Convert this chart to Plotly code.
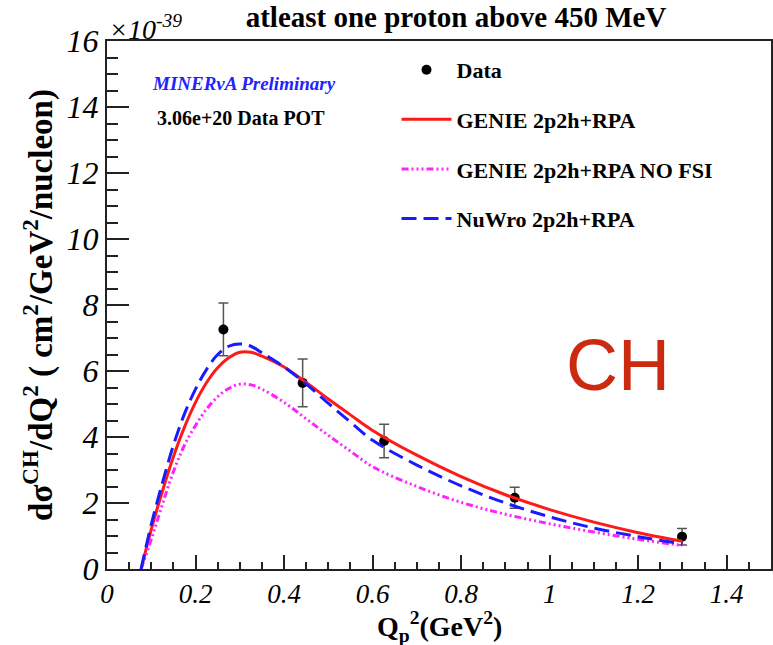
import plotly.graph_objects as go

# Measured differential cross section (units of 1e-39 cm^2/GeV^2/nucleon)
q2_data = [0.263, 0.442, 0.626, 0.921, 1.299]
xsec_data = [7.26, 5.64, 3.88, 2.16, 0.98]
xsec_err = [0.80, 0.72, 0.51, 0.32, 0.25]

# Model predictions
q2_model = [0.077, 0.10, 0.125, 0.15, 0.175, 0.2, 0.225, 0.25, 0.275, 0.30,
            0.325, 0.35, 0.4, 0.45, 0.5, 0.55, 0.6, 0.7, 0.8, 0.9, 1.0, 1.1,
            1.2, 1.3]
genie_rpa = [0.0, 1.2, 2.35, 3.4, 4.3, 5.05, 5.65, 6.1, 6.4, 6.57,
             6.57, 6.45, 6.12, 5.65, 5.15, 4.67, 4.2, 3.45, 2.8, 2.25, 1.8,
             1.42, 1.1, 0.84]
genie_rpa_nofsi = [0.0, 0.9, 1.95, 2.95, 3.75, 4.35, 4.85, 5.22, 5.47, 5.6,
                   5.58, 5.45, 5.05, 4.55, 4.05, 3.57, 3.1, 2.5, 2.02, 1.66,
                   1.37, 1.12, 0.9, 0.71]
nuwro_rpa = [0.0, 1.35, 2.6, 3.75, 4.7, 5.45, 6.05, 6.5, 6.75, 6.82,
             6.75, 6.55, 6.12, 5.6, 5.02, 4.45, 3.9, 3.15, 2.52, 2.0, 1.58,
             1.24, 0.98, 0.76]

x_ticks = [0, 0.2, 0.4, 0.6, 0.8, 1.0, 1.2, 1.4]
x_tick_text = ["0", "0.2", "0.4", "0.6", "0.8", "1", "1.2", "1.4"]
y_ticks = [0, 2, 4, 6, 8, 10, 12, 14, 16]
y_tick_text = ["0", "2", "4", "6", "8", "10", "12", "14", "16"]

SERIF = "Liberation Serif, Times New Roman, Tinos, serif"

fig = go.Figure()

fig.add_trace(go.Scatter(
    x=q2_data, y=xsec_data, mode="markers", name="Data",
    marker=dict(color="black", size=10),
    error_y=dict(type="data", array=xsec_err, color="#555555",
                 thickness=1.5, width=5),
    legendgroup="a",
))
fig.add_trace(go.Scatter(
    x=q2_model, y=genie_rpa, mode="lines", name="GENIE 2p2h+RPA",
    line=dict(color="#ff1a1a", width=3, shape="spline"),
    legendgroup="b",
))
fig.add_trace(go.Scatter(
    x=q2_model, y=genie_rpa_nofsi, mode="lines", name="GENIE 2p2h+RPA NO FSI",
    line=dict(color="#ff22ff", width=3, shape="spline",
              dash="7px,3px,2px,3px,2px,3px,2px,3px"),
    legendgroup="c",
))
fig.add_trace(go.Scatter(
    x=q2_model, y=nuwro_rpa, mode="lines", name="NuWro 2p2h+RPA",
    line=dict(color="#1a1aff", width=3, shape="spline", dash="15px,7px"),
    legendgroup="d",
))

axis_common = dict(
    showline=True, linecolor="#222222", linewidth=2, mirror=True,
    ticks="inside", tickcolor="#222222", showgrid=False, zeroline=False,
)

fig.update_xaxes(
    range=[0, 1.5], tickvals=x_ticks, ticktext=x_tick_text,
    ticklen=14, tickwidth=1.5,
    minor=dict(dtick=0.05, ticks="inside", ticklen=7, tickcolor="#222222",
               tickwidth=1.5, showgrid=False),
    tickfont=dict(family=SERIF, size=27, color="black", style="italic"),
    **axis_common,
)
fig.update_yaxes(
    range=[0, 16], tickvals=y_ticks, ticktext=y_tick_text,
    ticklen=22, tickwidth=1.5,
    minor=dict(dtick=0.5, ticks="inside", ticklen=11, tickcolor="#222222",
               tickwidth=1.5, showgrid=False),
    tickfont=dict(family=SERIF, size=32, color="black", style="italic"),
    title=dict(text="<b>d\u03c3<sup>CH</sup>/dQ<sup>2</sup> ( cm<sup>2</sup>/GeV<sup>2</sup>/nucleon)</b>",
               font=dict(family=SERIF, size=33, color="black"), standoff=4),
    **axis_common,
)

fig.update_layout(
    width=773, height=645,
    margin=dict(l=107, r=0, t=41, b=76),
    plot_bgcolor="white", paper_bgcolor="white",
    title=dict(text="<b>atleast one proton above 450 MeV</b>",
               font=dict(family=SERIF, size=29, color="black"),
               x=0.59, xanchor="center", y=1 - 17 / 645, yanchor="middle",
               xref="container", yref="container"),
    legend=dict(
        x=0.436, xanchor="left", y=0.985, yanchor="top",
        font=dict(family=SERIF, size=22, color="black", weight="bold"),
        bgcolor="rgba(0,0,0,0)", traceorder="grouped", tracegroupgap=18,
        itemwidth=50,
    ),
    showlegend=True,
    annotations=[
        dict(text="<b>Q<sub>p</sub><sup>2</sup>(GeV<sup>2</sup>)</b>",
             xref="paper", yref="paper", x=0.5, y=0.0, xanchor="center",
             yanchor="top", yshift=-36, showarrow=False,
             font=dict(family=SERIF, size=28, color="black")),
        dict(text="\u00d710<sup>-39</sup>", xref="paper", yref="paper",
             x=0.0, y=1.0, xanchor="left", yanchor="bottom", showarrow=False,
             font=dict(family=SERIF, size=28, color="black", style="italic"),
             yshift=-6),
        dict(text="<b><i>MINERvA Preliminary</i></b>", xref="paper", yref="paper",
             x=0.065, y=0.920, xanchor="left", yanchor="middle", showarrow=False,
             font=dict(family=SERIF, size=19, color="#2222ff")),
        dict(text="<b>3.06e+20 Data POT</b>", xref="paper", yref="paper",
             x=0.073, y=0.854, xanchor="left", yanchor="middle", showarrow=False,
             font=dict(family=SERIF, size=20, color="black")),
        dict(text="CH", xref="paper", yref="paper",
             x=0.77, y=0.386, xanchor="center", yanchor="middle", showarrow=False,
             font=dict(family="Liberation Sans, Arial, sans-serif", size=72,
                       color="#cc2a10")),
    ],
)

fig.write_html("out.html")
